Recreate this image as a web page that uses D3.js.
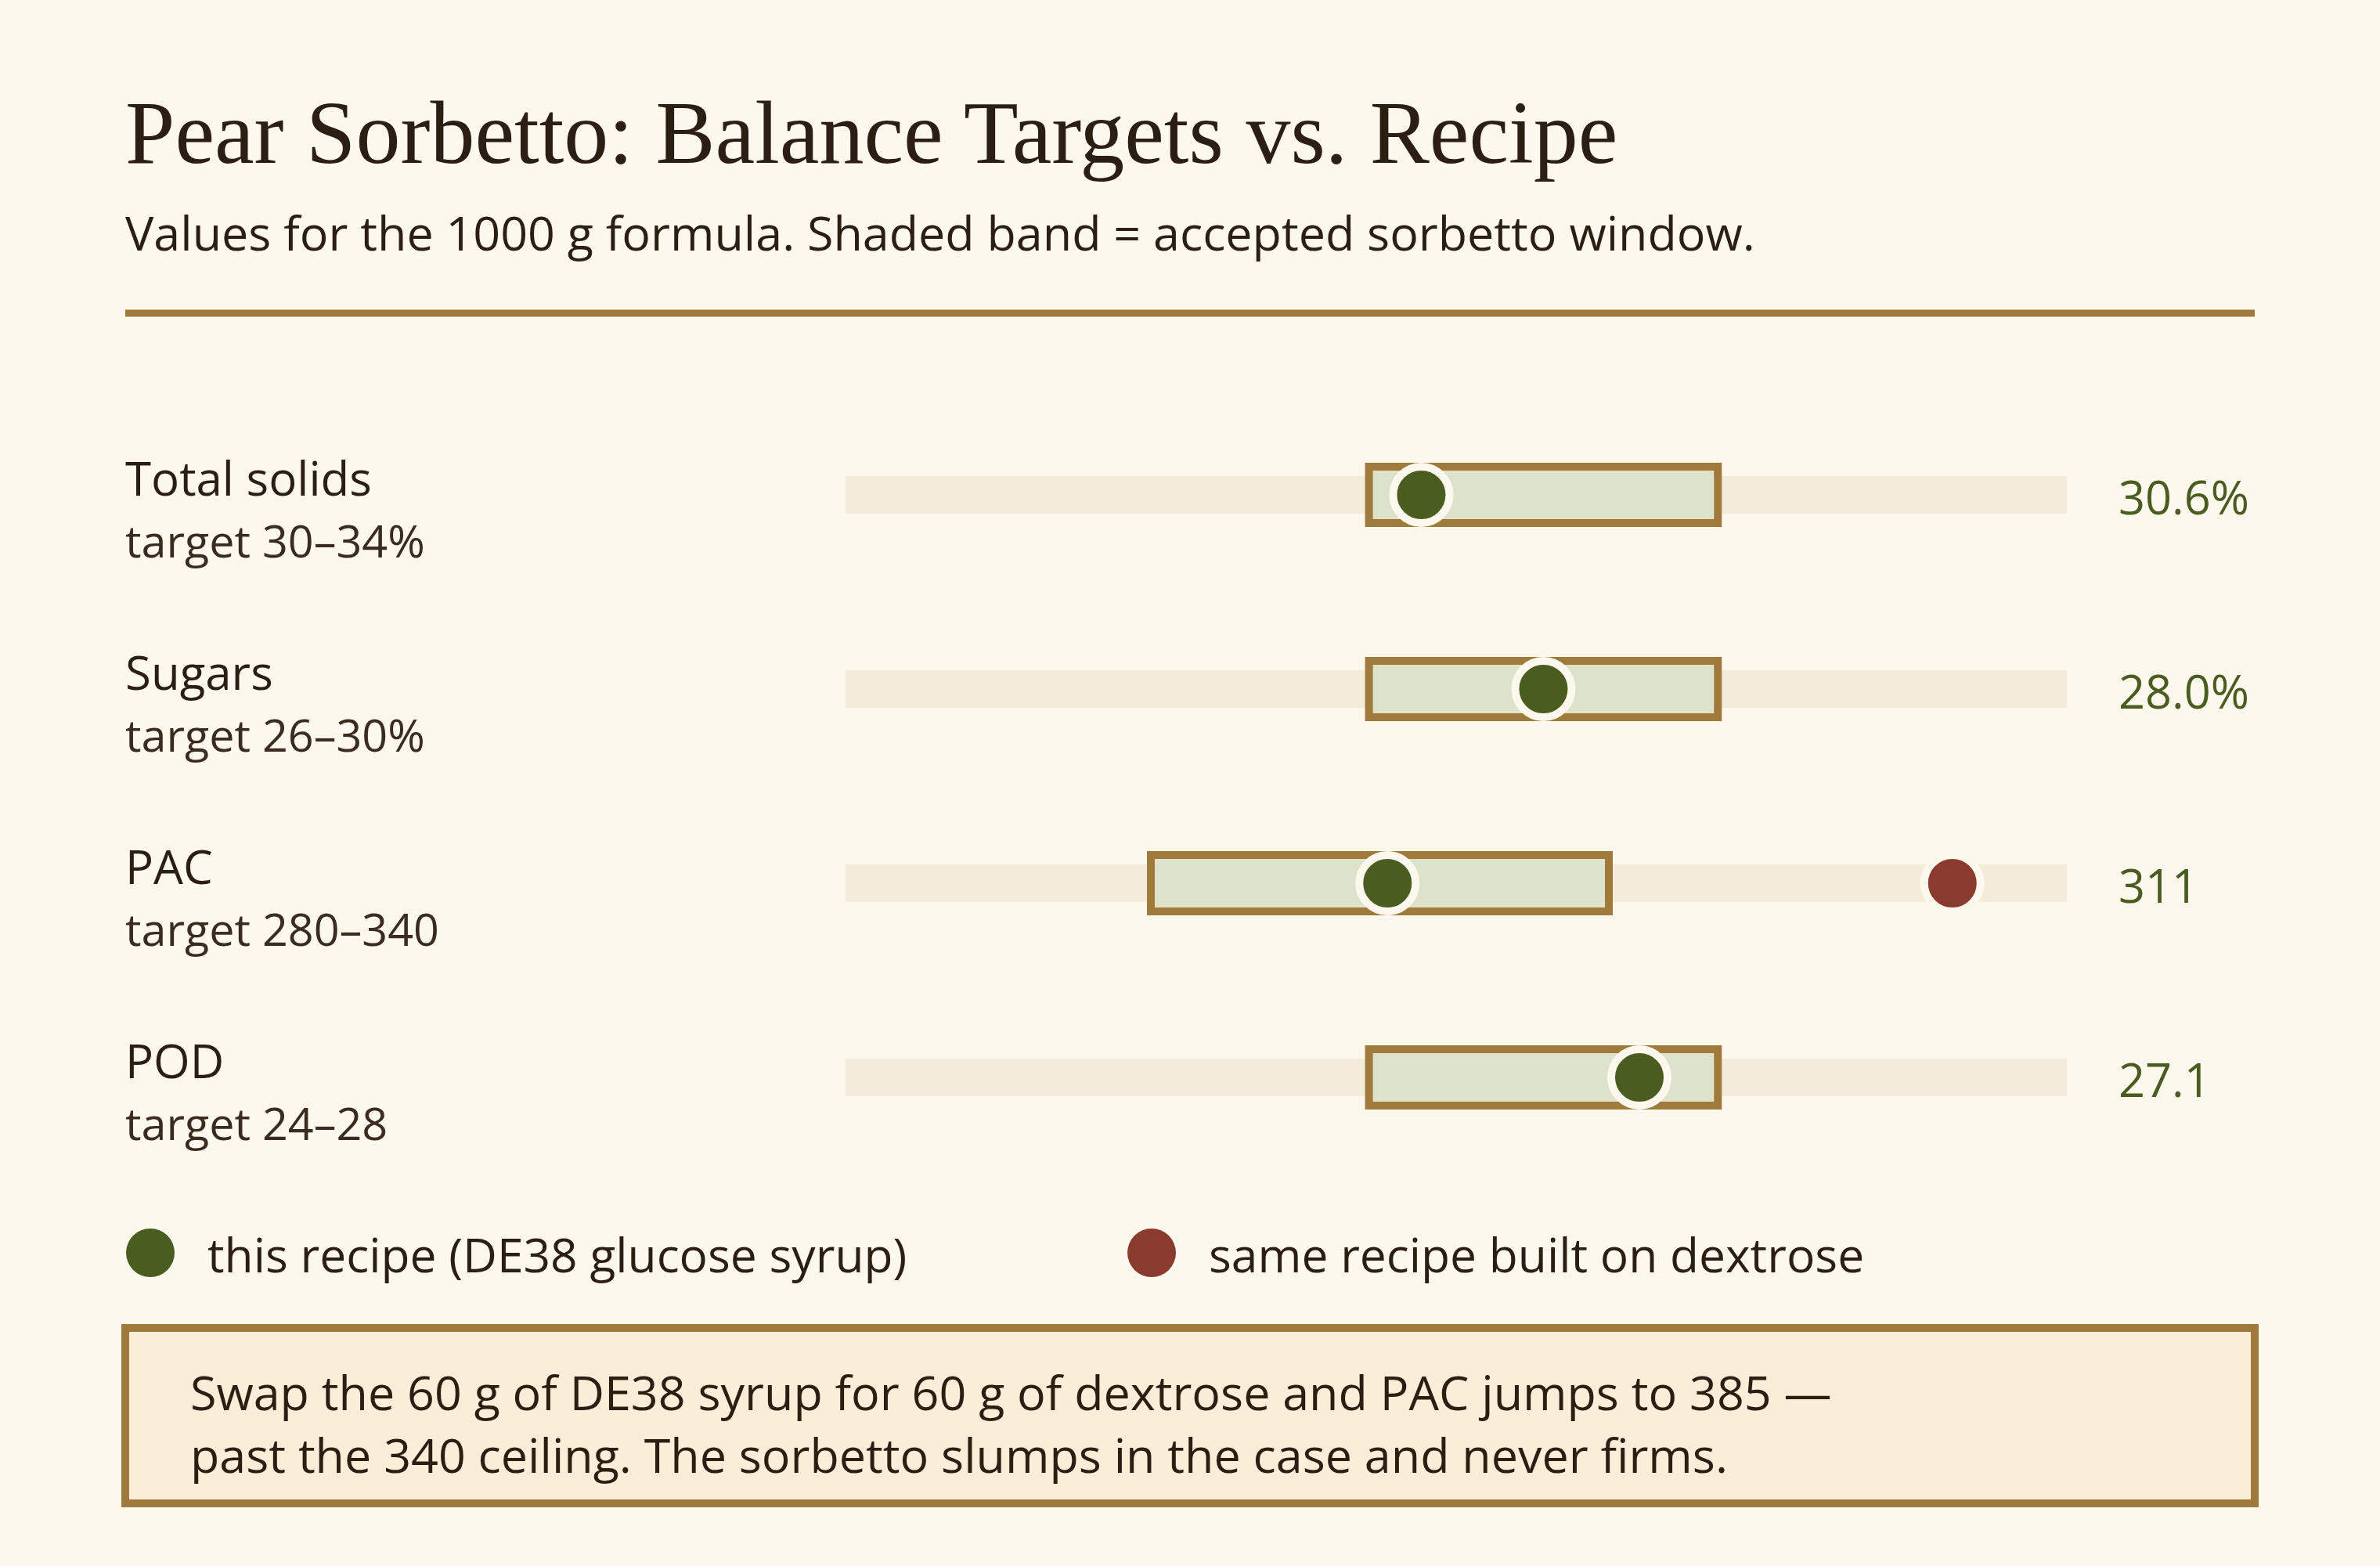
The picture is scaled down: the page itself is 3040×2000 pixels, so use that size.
<!DOCTYPE html>
<html>
<head>
<meta charset="utf-8">
<script src="https://cdn.jsdelivr.net/npm/d3@7"></script>
<style>
  html, body { margin: 0; padding: 0; background: #fdf8ee; }
  svg { display: block; }
</style>
</head>
<body>
<div id="chart"></div>
<script>
// ---- data ----
const metrics = ["Total solids", "Sugars", "PAC", "POD"];
const targetLabels = ["target 30–34%", "target 26–30%", "target 280–340", "target 24–28"];
const targetLow = [30, 26, 280, 24];
const targetHigh = [34, 30, 340, 28];
const recipeValues = [30.6, 28.0, 311, 27.1];
const valueLabels = ["30.6%", "28.0%", "311", "27.1"];
// dextrose version only differs on PAC
const dextroseValues = [null, null, 385, null];
// per-row scale domains
const domainMin = [24, 20, 240, 18];
const domainMax = [38, 34, 400, 32];
const legendLabels = ["this recipe (DE38 glucose syrup)", "same recipe built on dextrose"];
const noteLines = [
    "Swap the 60 g of DE38 syrup for 60 g of dextrose and PAC jumps to 385 —",
    "past the 340 ceiling. The sorbetto slumps in the case and never firms."
];

// ---- layout ----
const W = 3040, H = 2000;
const left = 160, right = 2880;
const trackX0 = 1080, trackX1 = 2640;
const sans = "'Open Sans', 'Noto Sans', sans-serif";
const serif = "Georgia, 'Liberation Serif', serif";

const colors = {
    bg: "#fdf8ee",
    ink: "#2b1e13",
    gold: "#a07a3a",
    track: "#f4ecd8",
    band: "#dde2cb",
    green: "#4a5c20",
    red: "#8b3a2e",
    note: "#faeed9"
};

const svg = d3.select("#chart").append("svg")
    .attr("width", W)
    .attr("height", H);

svg.append("rect")
    .attr("width", W).attr("height", H)
    .attr("fill", colors.bg);

// titles
svg.append("text")
    .text("Pear Sorbetto: Balance Targets vs. Recipe")
    .attr("x", left).attr("y", 208)
    .style("font-family", serif)
    .style("font-size", "114px")
    .style("fill", colors.ink);

svg.append("text")
    .text("Values for the 1000 g formula. Shaded band = accepted sorbetto window.")
    .attr("x", left).attr("y", 320)
    .style("font-family", sans)
    .style("font-size", "61px")
    .style("fill", colors.ink);

svg.append("line")
    .attr("x1", left).attr("x2", right)
    .attr("y1", 400).attr("y2", 400)
    .attr("stroke", colors.gold)
    .attr("stroke-width", 9);

// rows
const yScale = d3.scalePoint()
    .domain(metrics)
    .range([632, 1376]);

metrics.forEach((m, i) => {
    const cy = yScale(m);
    const x = d3.scaleLinear()
        .domain([domainMin[i], domainMax[i]])
        .range([trackX0, trackX1]);

    const row = svg.append("g");

    row.append("text")
        .text(m)
        .attr("x", left).attr("y", cy + 1)
        .style("font-family", sans)
        .style("font-size", "60px")
        .style("fill", colors.ink);

    row.append("text")
        .text(targetLabels[i])
        .attr("x", left).attr("y", cy + 80)
        .style("font-family", sans)
        .style("font-size", "57.5px")
        .style("fill", "#3a2d20");

    // full track
    row.append("rect")
        .attr("x", x(domainMin[i]))
        .attr("width", x(domainMax[i]) - x(domainMin[i]))
        .attr("y", cy - 24).attr("height", 48)
        .attr("fill", colors.track);

    // accepted window
    row.append("rect")
        .attr("x", x(targetLow[i]))
        .attr("width", x(targetHigh[i]) - x(targetLow[i]))
        .attr("y", cy - 36).attr("height", 72)
        .attr("fill", colors.band)
        .attr("stroke", colors.gold)
        .attr("stroke-width", 10);

    if (dextroseValues[i] != null) {
        row.append("circle")
            .attr("cx", x(dextroseValues[i])).attr("cy", cy)
            .attr("r", 36)
            .attr("fill", colors.red)
            .attr("stroke", colors.bg)
            .attr("stroke-width", 10);
    }

    row.append("circle")
        .attr("cx", x(recipeValues[i])).attr("cy", cy)
        .attr("r", 36)
        .attr("fill", colors.green)
        .attr("stroke", colors.bg)
        .attr("stroke-width", 10);

    row.append("text")
        .text(valueLabels[i])
        .attr("x", 2706).attr("y", cy + 25)
        .style("font-family", sans)
        .style("font-size", "59.5px")
        .style("fill", colors.green);
});

// legend
const legendColors = [colors.green, colors.red];
const legendX = [192, 1471];
legendLabels.forEach((lbl, i) => {
    svg.append("circle")
        .attr("cx", legendX[i]).attr("cy", 1600)
        .attr("r", 31)
        .attr("fill", legendColors[i]);
    svg.append("text")
        .text(lbl)
        .attr("x", legendX[i] + 73).attr("y", 1625)
        .style("font-family", sans)
        .style("font-size", "60.5px")
        .style("fill", colors.ink);
});

// note box
svg.append("rect")
    .attr("x", left).attr("y", 1696)
    .attr("width", right - left).attr("height", 224)
    .attr("fill", colors.note)
    .attr("stroke", colors.gold)
    .attr("stroke-width", 10);

noteLines.forEach((line, i) => {
    svg.append("text")
        .text(line)
        .attr("x", 243).attr("y", 1801 + i * 80)
        .style("font-family", sans)
        .style("font-size", "61px")
        .style("fill", colors.ink);
});
</script>
</body>
</html>
